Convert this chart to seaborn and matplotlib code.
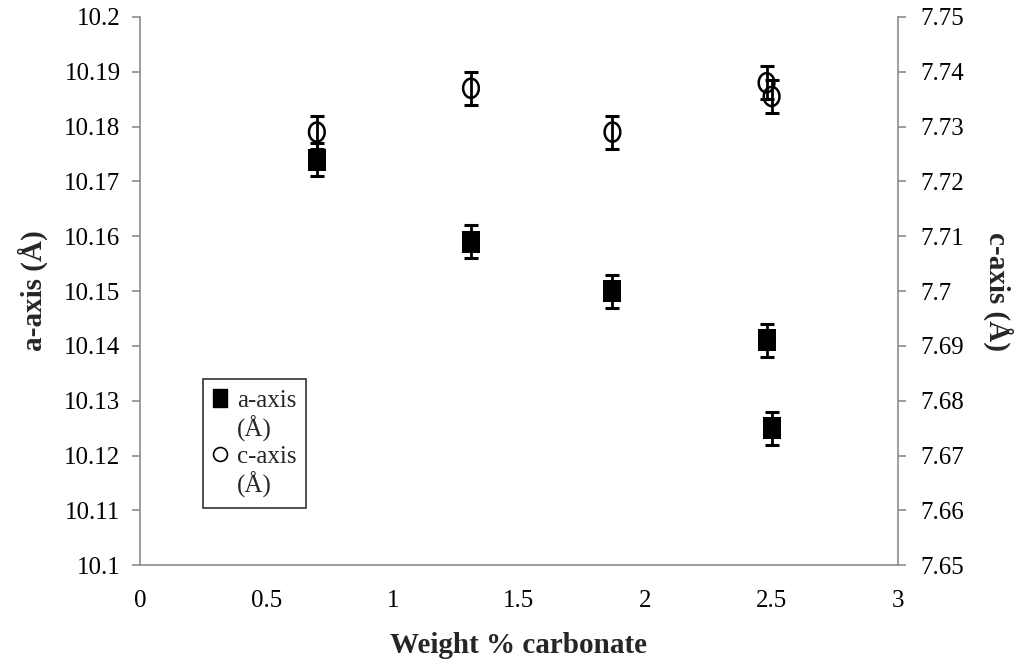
import numpy as np
import pandas as pd
import matplotlib
matplotlib.use("Agg")
import matplotlib.pyplot as plt
import seaborn as sns
from matplotlib.lines import Line2D
from matplotlib.path import Path

# ---- data ----
a_x = [0.70, 1.31, 1.87, 2.48, 2.50]
a_val = [10.174, 10.159, 10.150, 10.141, 10.125]
a_err = [0.003, 0.003, 0.003, 0.003, 0.003]

c_x = [0.70, 1.31, 1.87, 2.48, 2.50]
c_val = [7.729, 7.737, 7.729, 7.738, 7.7355]
c_err = [0.003, 0.003, 0.003, 0.003, 0.003]

x_ticks = [0, 0.5, 1, 1.5, 2, 2.5, 3]
x_tick_labels = ["0", "0.5", "1", "1.5", "2", "2.5", "3"]
a_ticks = [10.1, 10.11, 10.12, 10.13, 10.14, 10.15, 10.16, 10.17, 10.18, 10.19, 10.2]
a_tick_labels = ["10.1", "10.11", "10.12", "10.13", "10.14", "10.15", "10.16", "10.17", "10.18", "10.19", "10.2"]
c_ticks = [7.65, 7.66, 7.67, 7.68, 7.69, 7.7, 7.71, 7.72, 7.73, 7.74, 7.75]
c_tick_labels = ["7.65", "7.66", "7.67", "7.68", "7.69", "7.7", "7.71", "7.72", "7.73", "7.74", "7.75"]

sns.set_theme(style="white")
plt.rcParams['font.family'] = ['Liberation Serif', 'DejaVu Serif']

GREY = "#8c8c8c"

# slightly tall marker shapes (as in the reference)
sq_marker = Path([(-0.82, -1), (0.82, -1), (0.82, 1), (-0.82, 1), (-0.82, -1)],
                 [Path.MOVETO, Path.LINETO, Path.LINETO, Path.LINETO, Path.CLOSEPOLY])
t = np.linspace(0, 2 * np.pi, 60)
el_marker = Path(np.column_stack([0.82 * np.cos(t), np.sin(t)]))

fig = plt.figure(figsize=(10.19, 6.65), dpi=100)
ax = fig.add_axes([0.1374, 0.150, 0.7438, 0.8245])
ax2 = ax.twinx()

df_a = pd.DataFrame({"x": a_x, "y": a_val})
df_c = pd.DataFrame({"x": c_x, "y": c_val})

ax.errorbar(a_x, a_val, yerr=a_err, fmt="none", ecolor="black", elinewidth=2,
            capsize=5, capthick=2.2, zorder=2)
sns.scatterplot(data=df_a, x="x", y="y", ax=ax, marker=sq_marker, s=260, color="black",
                edgecolor="black", linewidth=0, zorder=3, legend=False)

ax2.errorbar(c_x, c_val, yerr=c_err, fmt="none", ecolor="black", elinewidth=2,
             capsize=5, capthick=2.2, zorder=2)
sns.scatterplot(data=df_c, x="x", y="y", ax=ax2, marker=el_marker, s=190, facecolor="none",
                edgecolor="black", linewidth=1.8, zorder=3, legend=False)

ax.set_xlim(0, 3)
ax.set_ylim(10.1, 10.2)
ax2.set_ylim(7.65, 7.75)
ax.set_xticks(x_ticks)
ax.set_xticklabels(x_tick_labels)
ax.set_yticks(a_ticks)
ax.set_yticklabels(a_tick_labels)
ax2.set_yticks(c_ticks)
ax2.set_yticklabels(c_tick_labels)

for a in (ax, ax2):
    a.spines["top"].set_visible(False)
    for s in a.spines.values():
        s.set_color(GREY)
        s.set_linewidth(1.2)
    a.tick_params(axis="both", which="major", direction="out", length=6, width=1.2,
                  color=GREY, labelsize=18, labelcolor="black", pad=6)
ax.spines["right"].set_visible(False)
ax2.spines["left"].set_visible(False)
ax2.spines["bottom"].set_visible(False)
ax.tick_params(axis="x", length=5, pad=13)
ax.tick_params(axis="y", left=True, labelleft=True, pad=8)
ax2.tick_params(axis="y", right=True, labelright=True, pad=10)

ax.set_xlabel("Weight % carbonate", fontsize=21, fontweight="bold", labelpad=14)
ax.set_ylabel("a-axis (Å)", fontsize=21, fontweight="bold", labelpad=12)
ax2.set_ylabel("c-axis (Å)", fontsize=21, fontweight="bold", rotation=270, labelpad=36)

handles = [
    Line2D([], [], marker=sq_marker, linestyle="none", color="black", markersize=13),
    Line2D([], [], linestyle="none", marker=None),
    Line2D([], [], marker="o", linestyle="none", markerfacecolor="white",
           markeredgecolor="black", markersize=10, markeredgewidth=1.2),
    Line2D([], [], linestyle="none", marker=None),
]
leg = ax.legend(handles, ["a-axis", "(Å)", "c-axis", "(Å)"], loc="lower left",
                bbox_to_anchor=(0.083, 0.104), frameon=True, fancybox=False,
                fontsize=18, handlelength=0.6, handletextpad=0.35, borderpad=0.4,
                labelspacing=0.15, borderaxespad=0)
leg.get_frame().set_edgecolor("black")
leg.get_frame().set_linewidth(1.2)

fig.savefig("out.png", dpi=100)
